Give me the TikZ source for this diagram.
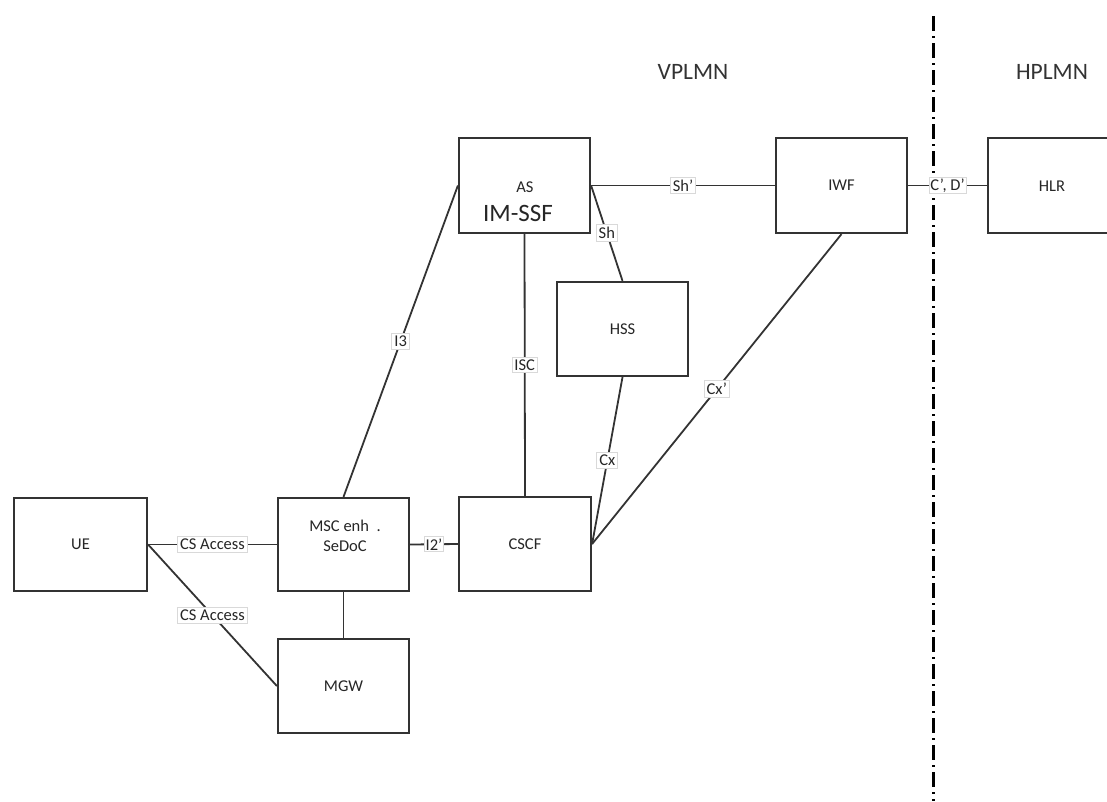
\documentclass[tikz,border=0pt]{standalone}
\usepackage{fontspec}
\setmainfont{Carlito}
\begin{document}
\begin{tikzpicture}[x=1pt,y=-1pt,
  box/.style={draw=black!80,line width=2.2pt,fill=white,inner sep=0pt},
  conn/.style={draw=black!80,line width=1.8pt},
  lbl/.style={fill=white,draw=black!15,line width=0.9pt,inner sep=2.5pt,text=black!85,font=\fontsize{16.5}{19}\selectfont},
  txt/.style={text=black!85,font=\fontsize{16.5}{19}\selectfont},
  region/.style={text=black!80,font=\fontsize{23.5}{28}\selectfont}]
\useasboundingbox (0,0) rectangle (1107,801);
% division line
\coordinate (dtop) at (933,16);
\coordinate (dbot) at (933,801);
\draw[line width=3pt,black,dash pattern=on 15pt off 5pt on 2pt off 5pt] (dtop) -- (dbot);
% region names
\node[region] (vplmn) at (693,72) {VPLMN};
\node[region] (hplmn) at (1052,72) {HPLMN};
% boxes
\node[box,minimum width=131pt,minimum height=95pt] (as) at (524.5,185.5) {};
\node[box,minimum width=131pt,minimum height=95pt] (iwf) at (841.5,185.5) {};
\node[box,minimum width=131pt,minimum height=95pt,anchor=west] (hlr) at (987,185.5) {};
\node[box,minimum width=131pt,minimum height=94pt] (hss) at (622.5,329) {};
\node[box,minimum width=132pt,minimum height=94pt] (cscf) at (525,544) {};
\node[box,minimum width=133pt,minimum height=93pt] (ue) at (80.5,544.5) {};
\node[box,minimum width=131pt,minimum height=93pt] (msc) at (343.5,544.5) {};
\node[box,minimum width=131pt,minimum height=94pt] (mgw) at (343.5,686) {};
% box texts
\node[txt] (astext) at (525,187) {AS};
\node[text=black!85,font=\fontsize{25}{30}\selectfont] (imssf) at (518,213) {IM-SSF};
\node[txt] (iwftext) at (iwf) {IWF};
\node[txt] (hlrtext) at (1052,186) {HLR};
\node[txt] (hsstext) at (hss) {HSS};
\node[txt] (cscftext) at (cscf) {CSCF};
\node[txt] (uetext) at (ue) {UE};
\node[txt,align=center] (msctext) at (345,536) {MSC enh\ \ .\\[1pt]SeDoC};
\node[txt] (mgwtext) at (mgw) {MGW};
% connectors
\draw[conn] (ue.east) -- node[lbl] (l1) {CS Access} (msc.west);
\draw[conn] (ue.east) -- node[lbl] (l2) {CS Access} (mgw.west);
\draw[conn] (msc.east) -- node[lbl,inner sep=1.5pt] (l3) {I2’} (cscf.west);
\draw[conn] (msc.south) -- (mgw.north);
\draw[conn] (msc.north) -- node[lbl] (l4) {I3} (as.west);
\draw[conn] (as.south) -- node[lbl] (l5) {ISC} (cscf.north);
\draw[conn] (as.east) -- node[lbl] (l6) {Sh’} (iwf.west);
\draw[conn] (as.east) -- node[lbl] (l7) {Sh} (hss.north);
\draw[conn] (hss.south) -- node[lbl] (l8) {Cx} (cscf.east);
\draw[conn] (iwf.south) -- node[lbl] (l9) {Cx’} (cscf.east);
\draw[conn] (iwf.east) -- node[lbl,inner sep=1.5pt] (l10) {C’, D’} (hlr.west);
\end{tikzpicture}
\end{document}
